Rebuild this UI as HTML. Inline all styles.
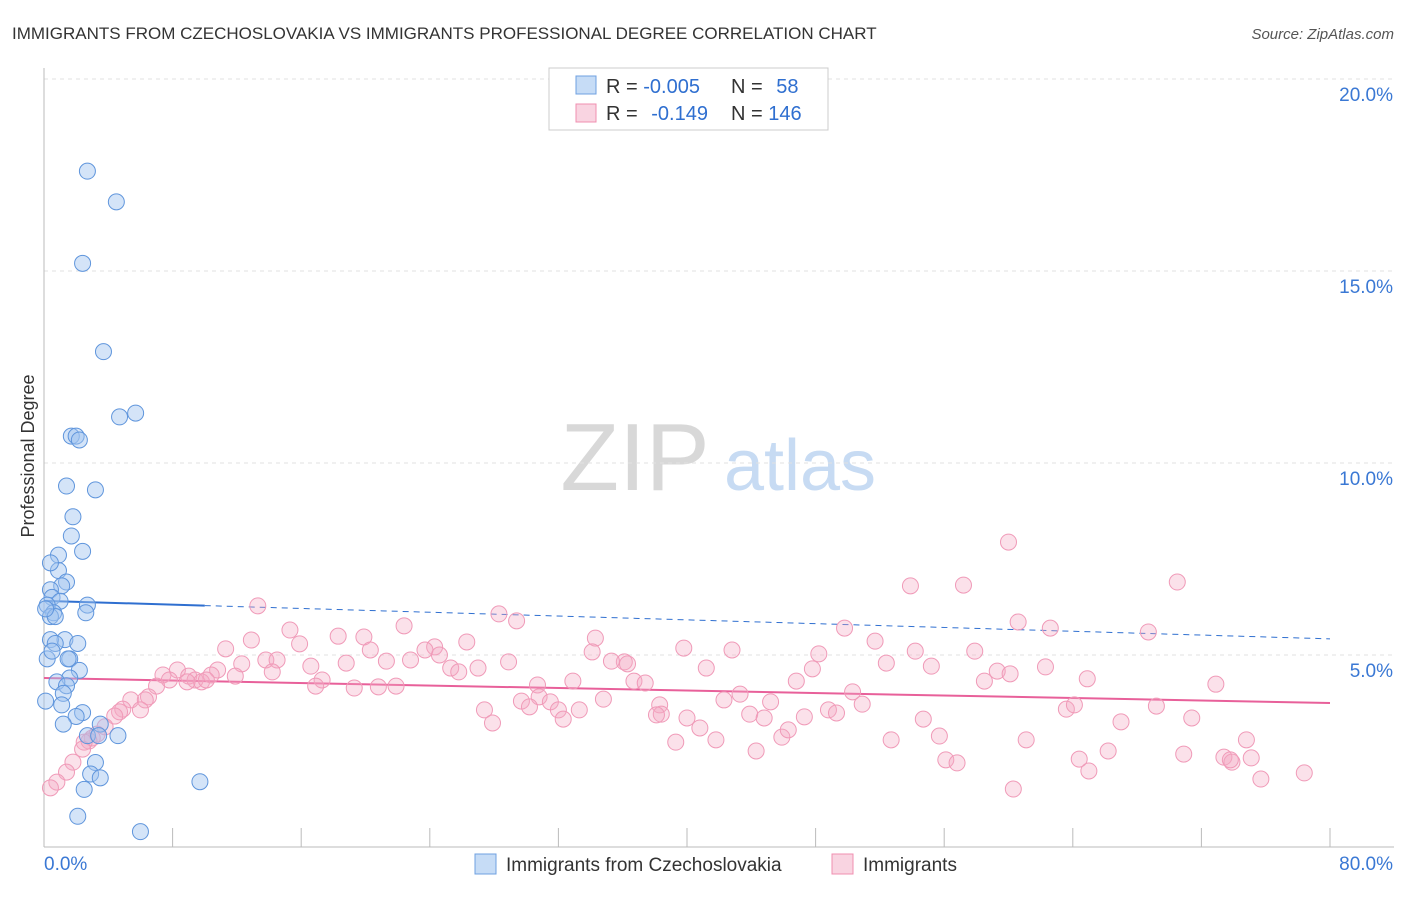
<!DOCTYPE html>
<html><head><meta charset="utf-8">
<style>
body{margin:0;background:#fff;font-family:"Liberation Sans",sans-serif;}
svg text{font-family:"Liberation Sans",sans-serif;}
</style></head>
<body>
<svg id="chart" width="1406" height="892" viewBox="0 0 1406 892" xmlns="http://www.w3.org/2000/svg">
<text x="12" y="39" font-size="17" fill="#333">IMMIGRANTS FROM CZECHOSLOVAKIA VS IMMIGRANTS PROFESSIONAL DEGREE CORRELATION CHART</text>
<text x="1394" y="39" font-size="15" fill="#555" text-anchor="end" font-style="italic">Source: ZipAtlas.com</text>
<g>
<text x="635" y="490" font-size="96" fill="#d8d8d8" text-anchor="middle" font-family="Liberation Serif">ZIP</text>
<text x="800" y="490" font-size="72" fill="#c7dbf3" text-anchor="middle">atlas</text>
</g>
<g id="grid"></g>
<g id="axes"></g>
<g id="trend"></g>
<g id="pts"></g>
<text transform="translate(34,456) rotate(-90)" font-size="18" fill="#333" text-anchor="middle">Professional Degree</text>
<g>
<rect x="549" y="68" width="279" height="62" fill="#fff" stroke="#ccc"/>
<rect x="576" y="76" width="20" height="18" fill="rgba(160,196,240,0.6)" stroke="#6fa0e0"/>
<rect x="576" y="104" width="20" height="18" fill="rgba(244,170,195,0.5)" stroke="#f08fb0"/>
<text x="606" y="93" font-size="20" fill="#333">R = <tspan fill="#2f6fd0">-0.005</tspan></text>
<text x="731" y="93" font-size="20" fill="#333">N = <tspan fill="#2f6fd0" dx="8">58</tspan></text>
<text x="606" y="120" font-size="20" fill="#333">R = <tspan fill="#2f6fd0" dx="8">-0.149</tspan></text>
<text x="731" y="120" font-size="20" fill="#333">N = <tspan fill="#2f6fd0">146</tspan></text>
</g>
<g>
<rect x="475" y="854" width="21" height="20" fill="rgba(160,196,240,0.6)" stroke="#6fa0e0"/>
<text x="506" y="871" font-size="19" fill="#333">Immigrants from Czechoslovakia</text>
<rect x="832" y="854" width="21" height="20" fill="rgba(244,170,195,0.5)" stroke="#f08fb0"/>
<text x="863" y="871" font-size="19" fill="#333">Immigrants</text>
</g>
</svg>
<script>
const yTicks=[5,10,15,20];
const yTickLabels=["5.0%","10.0%","15.0%","20.0%"];
const xTickVals=[0,10,20,30,40,50,60,70,80];
const xEndLabels=["0.0%","80.0%"];
const blueX=[2.7,4.5,2.4,3.7,4.7,5.7,1.7,2.0,2.2,1.4,3.2,1.8,1.7,2.4,0.9,0.9,0.4,1.4,1.1,0.4,0.5,1.0,0.2,2.7,0.6,2.6,0.4,0.7,1.3,2.1,0.4,0.7,1.6,1.5,2.2,1.6,0.8,1.4,1.2,1.1,2.4,2.0,1.2,3.5,2.7,3.4,4.6,3.2,2.9,3.5,2.5,9.7,2.1,6.0,0.2,0.1,0.5,0.1];
const blueY=[17.6,16.8,15.2,12.9,11.2,11.3,10.7,10.7,10.6,9.4,9.3,8.6,8.1,7.7,7.6,7.2,7.4,6.9,6.8,6.7,6.5,6.4,6.3,6.3,6.1,6.1,6.0,6.0,5.4,5.3,5.4,5.3,4.9,4.9,4.6,4.4,4.3,4.2,4.0,3.7,3.5,3.4,3.2,3.2,2.9,2.9,2.9,2.2,1.9,1.8,1.5,1.7,0.8,0.4,4.9,3.8,5.1,6.2];
const pinkX=[60.0,53.9,57.2,70.5,13.3,28.3,29.4,60.6,62.6,68.7,49.8,15.3,22.4,51.7,18.3,19.9,12.9,15.9,26.3,34.3,11.3,24.3,23.7,24.6,20.3,39.8,42.8,54.2,57.9,48.2,18.8,13.8,14.5,22.8,34.1,28.9,36.1,35.3,36.3,12.3,10.8,16.6,21.3,25.3,27.0,25.8,52.4,55.2,62.3,41.2,59.3,17.3,7.4,8.3,9.0,10.4,14.2,11.9,9.4,7.8,9.8,8.9,10.1,7.0,16.9,19.3,20.8,21.9,32.9,36.7,37.4,46.8,47.8,64.9,58.5,72.9,60.1,6.5,5.4,6.3,6.0,4.9,4.7,4.4,3.8,3.3,3.0,2.8,2.5,2.4,1.8,1.4,0.8,0.4,30.7,29.7,30.8,30.2,31.5,32.0,34.8,33.3,27.4,27.9,32.3,38.3,38.4,38.1,40.0,42.3,43.3,45.2,43.9,44.8,47.3,48.8,49.3,50.3,50.9,54.7,52.7,55.7,63.6,64.1,61.1,67.0,69.2,71.4,41.8,40.8,39.3,45.9,46.3,44.3,56.1,56.8,60.3,64.4,65.0,66.2,70.9,73.4,73.9,74.8,75.1,75.7,78.4,73.8];
const pinkY=[7.94,6.80,6.82,6.90,6.28,6.07,5.89,5.86,5.70,5.60,5.70,5.65,5.76,5.36,5.49,5.47,5.39,5.29,5.34,5.44,5.16,5.21,5.13,5.0,5.13,5.18,5.13,5.10,5.10,5.03,4.79,4.87,4.87,4.87,5.08,4.82,4.82,4.84,4.77,4.77,4.61,4.71,4.84,4.66,4.66,4.56,4.79,4.71,4.69,4.66,4.58,4.35,4.48,4.61,4.45,4.48,4.56,4.45,4.35,4.35,4.30,4.30,4.35,4.19,4.19,4.14,4.17,4.19,4.32,4.32,4.27,4.32,4.64,4.38,4.32,4.24,4.51,3.91,3.83,3.83,3.57,3.59,3.52,3.41,3.13,2.94,2.84,2.76,2.73,2.55,2.21,1.95,1.69,1.54,4.22,3.80,3.91,3.65,3.78,3.57,3.85,3.57,3.57,3.23,3.33,3.70,3.46,3.44,3.36,3.83,3.98,3.78,3.46,3.36,3.39,3.57,3.49,4.04,3.72,3.33,2.79,2.89,3.59,3.70,2.79,3.26,3.67,3.36,2.79,3.10,2.73,2.86,3.05,2.50,2.27,2.19,1.51,2.29,1.98,2.50,2.42,2.34,2.21,2.79,2.32,1.77,1.93,2.27];
const blueTrend=[6.41,5.42];
const pinkTrend=[4.40,3.75];
const blueSolidEnd=10;

const NS="http://www.w3.org/2000/svg";
const X0=44,X1=1330,Y0=847,Ytop20=79;
function sx(v){return X0+(X1-X0)*v/80;}
function sy(v){return Y0-(Y0-Ytop20)*v/20;}
function mk(tag,attrs,parent){const e=document.createElementNS(NS,tag);for(const k in attrs)e.setAttribute(k,attrs[k]);parent.appendChild(e);return e;}
const grid=document.getElementById('grid'),axes=document.getElementById('axes'),trend=document.getElementById('trend'),pts=document.getElementById('pts');
yTicks.forEach((t,i)=>{
  const l=mk('line',{x1:X0,x2:1394,y1:sy(t),y2:sy(t),stroke:'#e2e2e2','stroke-dasharray':'4,4'},grid);
  
  
  const tx=mk('text',{x:1393,y:sy(t)+22,'font-size':19,fill:'#3a78d4','text-anchor':'end'},axes);
  tx.textContent=yTickLabels[i];
  
  
});
const ya=mk('line',{x1:X0,x2:X0,y1:68,y2:Y0,stroke:'#bbb'},axes);


const xa=mk('line',{x1:X0,x2:1394,y1:Y0,y2:Y0,stroke:'#bbb'},axes);


for(let v=0;v<=80;v+=8){
  const t=mk('line',{x1:sx(v),x2:sx(v),y1:Y0,y2:828,stroke:'#bbb'},axes);
  
  
}
const xl0=mk('text',{x:44,y:870,'font-size':19,fill:'#3a78d4'},axes);xl0.textContent=xEndLabels[0];


const xl1=mk('text',{x:1393,y:870,'font-size':19,fill:'#3a78d4','text-anchor':'end'},axes);xl1.textContent=xEndLabels[1];


function ty(tr,v){return tr[0]+(tr[1]-tr[0])*v/80;}
pinkX.forEach((x,i)=>{
  const c=mk('circle',{cx:sx(x),cy:sy(pinkY[i]),r:8,fill:'rgba(244,170,195,0.35)',stroke:'#f09ab8','stroke-width':1},pts);
  
  
});
blueX.forEach((x,i)=>{
  const c=mk('circle',{cx:sx(x),cy:sy(blueY[i]),r:8,fill:'rgba(160,196,240,0.45)',stroke:'#5f95dc','stroke-width':1},pts);
  
  
});
const b1=mk('line',{x1:sx(0),y1:sy(ty(blueTrend,0)),x2:sx(blueSolidEnd),y2:sy(ty(blueTrend,blueSolidEnd)),stroke:'#2f6fd0','stroke-width':2},trend);


const b2=mk('line',{x1:sx(blueSolidEnd),y1:sy(ty(blueTrend,blueSolidEnd)),x2:sx(80),y2:sy(ty(blueTrend,80)),stroke:'#2f6fd0','stroke-width':1,'stroke-dasharray':'6,5'},trend);


const p1=mk('line',{x1:sx(0),y1:sy(ty(pinkTrend,0)),x2:sx(80),y2:sy(ty(pinkTrend,80)),stroke:'#e8609a','stroke-width':2},trend);


</script>
</body></html>
